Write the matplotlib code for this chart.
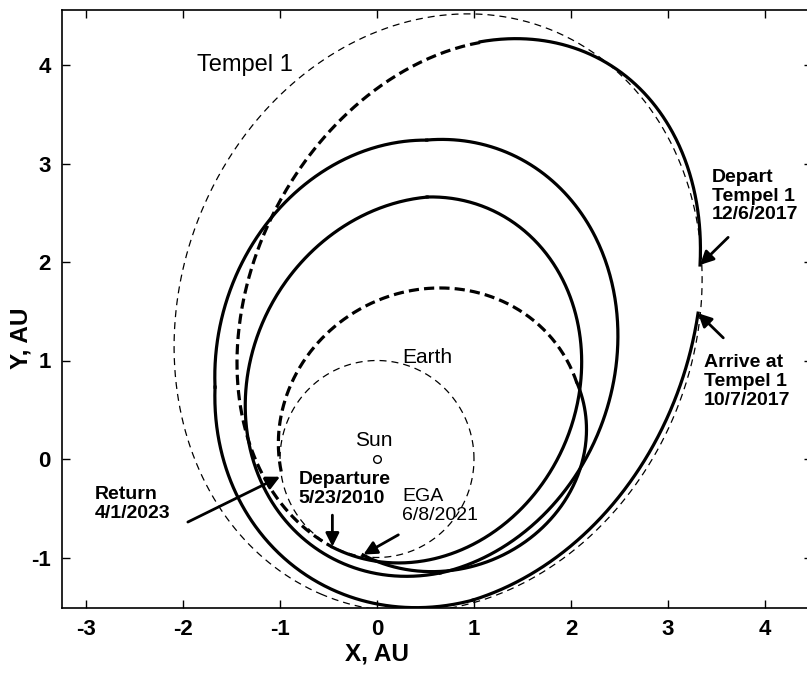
import numpy as np
import matplotlib
matplotlib.use("Agg")
import matplotlib.pyplot as plt

plt.rcParams['font.family'] = ['Liberation Sans', 'DejaVu Sans']
plt.rcParams['axes.unicode_minus'] = False

# ---- data: heliocentric orbit elements (AU, degrees) ----
# planet / comet orbits: semi-major axis, eccentricity, longitude of perihelion
earth_a, earth_e, earth_w = 1.0, 0.0, 0.0
tempel_a, tempel_e, tempel_w = 3.1, 0.52, 247.0

# spacecraft trajectory arcs (conic pieces): semi-latus rectum p, eccentricity e,
# longitude of perihelion w, polar angle start/end, and arc type
seg_names = ['Depart Tempel', 'Coast 1', 'Loop A1', 'Loop A2', 'Loop B1',
             'Loop B2', 'Loop C1', 'Loop C2', 'Coast 2', 'After EGA']
seg_p = [1.750, 1.653, 1.479, 1.596, 1.718, 1.750, 1.994, 2.335, 1.361, 1.182]
seg_e = [0.625, 0.644, 0.470, 0.445, 0.493, 0.473, 0.439, 0.546, 0.382, 0.464]
seg_w = [-120.6, -119.5, -115.9, -123.6, -114.1, -108.8, -126.0, -106.6, -156.4, -162.8]
seg_t0 = [30.6, 75.9, -117.4, 79.0, -60.7, 81.0, 156.4, -55.3, 20.5, -98.4]
seg_t1 = [75.9, 242.6, 79.0, 299.3, 81.0, 156.4, 304.7, 24.1, 189.4, 20.5]
seg_kind = ['thrust', 'coast', 'thrust', 'thrust', 'thrust', 'thrust',
            'thrust', 'thrust', 'coast', 'thrust']

# labels
body_labels = ['Tempel 1', 'Earth', 'Sun']
body_label_xy = [(-1.86, 4.0), (0.26, 1.03), (-0.03, 0.19)]
event_labels = ['Departure\n5/23/2010', 'EGA\n6/8/2021', 'Return\n4/1/2023',
                'Depart\nTempel 1\n12/6/2017', 'Arrive at\nTempel 1\n10/7/2017']
event_text_xy = [(-0.81, -0.30), (0.26, -0.48), (-2.91, -0.46), (3.45, 2.67), (3.37, 0.79)]
event_tip_xy = [(-0.46, -0.89), (-0.14, -0.97), (-1.0, -0.18), (3.33, 1.97), (3.31, 1.48)]
event_tail_xy = [(-0.46, -0.57), (0.22, -0.77), (-1.95, -0.64), (3.62, 2.25), (3.57, 1.23)]
event_bold = [True, False, True, True, True]

x_ticks = [-3, -2, -1, 0, 1, 2, 3, 4]
y_ticks = [-1, 0, 1, 2, 3, 4]

# ---- figure ----
fig = plt.figure(figsize=(8.07, 6.76), dpi=100)
ax = fig.add_axes([62/807, 68/676, 750/807, 598/676])
ax.set_xlim((62-377)/97, (812-377)/97)
ax.set_ylim((459-608)/98.5, (459-10)/98.5)

thin_dash = (0, (5.6, 4))
thick_dash = (0, (3.2, 1.6))

def orbit(a, e, w, n=720):
    nu = np.linspace(0, 2*np.pi, n)
    r = a*(1-e**2)/(1+e*np.cos(nu))
    return r*np.cos(nu+np.radians(w)), r*np.sin(nu+np.radians(w))

ex, ey = orbit(earth_a, earth_e, earth_w)
ax.plot(ex, ey, color='k', ls=thin_dash, lw=0.9)
tx, ty = orbit(tempel_a, tempel_e, tempel_w)
ax.plot(tx, ty, color='k', ls=thin_dash, lw=0.9)

for p, e, w, t0, t1, kind in zip(seg_p, seg_e, seg_w, seg_t0, seg_t1, seg_kind):
    tt = np.radians(np.linspace(t0, t1, 300))
    rr = p/(1 + e*np.cos(tt - np.radians(w)))
    ax.plot(rr*np.cos(tt), rr*np.sin(tt), color='k',
            ls='-' if kind == 'thrust' else thick_dash, lw=2.3)

ax.plot([0], [0], 'o', mfc='white', mec='k', ms=5.5, mew=1)

ax.set_xticks(x_ticks)
ax.set_yticks(y_ticks)
ax.set_xticklabels([str(v) for v in x_ticks], fontsize=16, fontweight='bold')
ax.set_yticklabels([str(v) for v in y_ticks], fontsize=16, fontweight='bold')
ax.tick_params(direction='in', top=True, right=True, length=6, width=1, pad=8)
for s in ax.spines.values():
    s.set_linewidth(1.2)
ax.set_xlabel('X, AU', fontsize=17.5, fontweight='bold')
ax.set_ylabel('Y, AU', fontsize=17.5, fontweight='bold')
ax.xaxis.set_label_coords((377-62)/750, -(643-608)/598)
ax.yaxis.set_label_coords((33-62)/750, (608-338)/598)

sizes = [17, 15, 15]
for lab, (x, y), s in zip(body_labels, body_label_xy, sizes):
    ax.text(x, y, lab, fontsize=s, va='center', ha='left' if lab != 'Sun' else 'center')

ap = dict(arrowstyle='-|>', lw=2, color='k', mutation_scale=20, shrinkA=0, shrinkB=0)
for lab, txy, tip, tail, b in zip(event_labels, event_text_xy, event_tip_xy,
                                  event_tail_xy, event_bold):
    ax.text(txy[0], txy[1], lab, fontsize=14, fontweight='bold' if b else 'normal',
            va='center', ha='left', linespacing=1.15)
    ax.annotate('', xy=tip, xytext=tail, arrowprops=ap)

fig.savefig("out.png")
